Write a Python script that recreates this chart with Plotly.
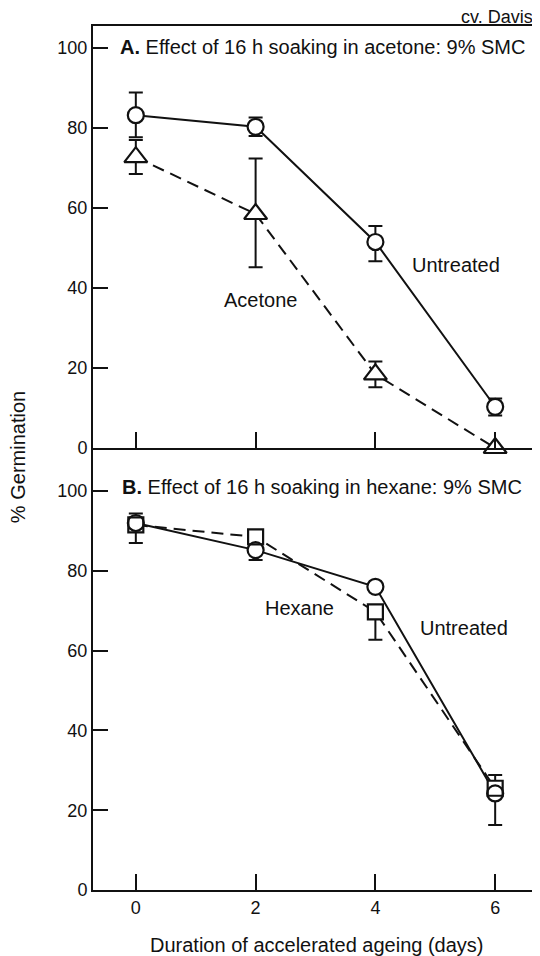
import plotly.graph_objects as go
from plotly.subplots import make_subplots

# ---------------- data ----------------
days = [0, 2, 4, 6]

# Panel A: acetone
a_untreated = [83.2, 80.3, 51.5, 10.3]
a_untreated_up = [5.7, 2.3, 4.0, 2.1]
a_untreated_dn = [5.5, 2.3, 4.8, 2.2]
a_acetone = [72.7, 58.5, 18.4, 0.0]
a_acetone_up = [4.3, 13.9, 3.2, 0.0]
a_acetone_dn = [4.2, 13.3, 3.2, 0.0]

# Panel B: hexane
b_untreated = [92.0, 85.2, 76.0, 24.2]
b_untreated_up = [2.4, 0.0, 0.0, 0.0]
b_untreated_dn = [0.0, 2.5, 0.0, 7.9]
b_hexane = [91.5, 88.5, 69.7, 25.5]
b_hexane_up = [0.0, 1.5, 0.0, 3.3]
b_hexane_dn = [4.5, 0.0, 7.0, 0.0]

x_ticks = [0, 2, 4, 6]
y_ticks = [0, 20, 40, 60, 80, 100]

title_a = "<b>A.</b> Effect of 16 h soaking in acetone: 9% SMC"
title_b = "<b>B.</b> Effect of 16 h soaking in hexane: 9% SMC"
x_title = "Duration of accelerated ageing (days)"
y_title = "% Germination"
corner = "cv. Davis"

# ---------------- figure ----------------
FONT = "Liberation Sans, Arial, Helvetica, sans-serif"
BLACK = "#111111"

fig = make_subplots(rows=2, cols=1, shared_xaxes=False, vertical_spacing=0)


def add_series(row, y, up, dn, symbol, size, dash):
    # connecting line
    fig.add_trace(go.Scatter(x=days, y=y, mode="lines",
                             line=dict(color=BLACK, width=2, dash=dash),
                             hoverinfo="skip", showlegend=False, cliponaxis=False),
                  row=row, col=1)
    # error bars + white fill marker (hides lines / bar stems inside)
    fig.add_trace(go.Scatter(x=days, y=y, mode="markers",
                             marker=dict(symbol=symbol, size=size, color="white",
                                         line=dict(width=0)),
                             error_y=dict(type="data", symmetric=False, array=up,
                                          arrayminus=dn, color=BLACK, thickness=2,
                                          width=7),
                             hoverinfo="skip", showlegend=False, cliponaxis=False),
                  row=row, col=1)


def add_outline(row, y, symbol, size):
    fig.add_trace(go.Scatter(x=days, y=y, mode="markers",
                             marker=dict(symbol=symbol + "-open", size=size, color=BLACK,
                                         line=dict(width=2.2, color=BLACK)),
                             showlegend=False, cliponaxis=False),
                  row=row, col=1)


add_series(1, a_untreated, a_untreated_up, a_untreated_dn, "circle", 16, "solid")
add_series(1, a_acetone, a_acetone_up, a_acetone_dn, "triangle-up", 20, "12px,7px")
add_outline(1, a_untreated, "circle", 16)
add_outline(1, a_acetone, "triangle-up", 20)

add_series(2, b_untreated, b_untreated_up, b_untreated_dn, "circle", 16, "solid")
add_series(2, b_hexane, b_hexane_up, b_hexane_dn, "square", 15, "12px,7px")
add_outline(2, b_untreated, "circle", 16)
add_outline(2, b_hexane, "square", 15)

axis_common = dict(showline=True, linecolor=BLACK, linewidth=2,
                   ticks="inside", tickcolor=BLACK, tickwidth=2,
                   showgrid=False, zeroline=False,
                   tickfont=dict(family=FONT, size=18, color=BLACK))

split = 0.5116
fig.update_xaxes(range=[-0.715, 6.665], tickvals=x_ticks, ticklen=16, **axis_common)
fig.update_xaxes(showticklabels=False, mirror=True, row=1, col=1)
fig.update_xaxes(ticktext=[str(v) for v in x_ticks], mirror=False, row=2, col=1)
fig.update_yaxes(tickvals=y_ticks, ticklen=15, mirror=True, **axis_common)
fig.update_yaxes(range=[0, 105.5], domain=[split, 1.0], row=1, col=1)
fig.update_yaxes(range=[0, 110.8], domain=[0.0, split], row=2, col=1)

txt = dict(family=FONT, size=20, color=BLACK)
annotations = [
    dict(text=title_a, x=-0.30, y=100.3, xref="x", yref="y", xanchor="left",
         yanchor="middle", showarrow=False, font=txt),
    dict(text=title_b, x=-0.26, y=101.0, xref="x2", yref="y2", xanchor="left",
         yanchor="middle", showarrow=False, font=txt),
    dict(text="Untreated", x=5.35, y=45.8, xref="x", yref="y", showarrow=False, font=txt),
    dict(text="Acetone", x=2.08, y=37.0, xref="x", yref="y", showarrow=False, font=txt),
    dict(text="Hexane", x=2.73, y=70.7, xref="x2", yref="y2", showarrow=False, font=txt),
    dict(text="Untreated", x=5.48, y=65.7, xref="x2", yref="y2", showarrow=False, font=txt),
    dict(text=corner, x=1.0, y=1.0, xref="paper", yref="paper", xanchor="right",
         yanchor="middle", yshift=9, showarrow=False,
         font=dict(family=FONT, size=18, color=BLACK)),
    dict(text=x_title, x=0.507, y=0, xref="paper", yref="paper", xanchor="center",
         yanchor="middle", yshift=-55, showarrow=False, font=txt),
    dict(text=y_title, x=0, y=0.501, xref="paper", yref="paper", xanchor="center",
         yanchor="middle", xshift=-75, textangle=-90, showarrow=False, font=txt),
]

# page body has an 8px default margin; size the figure to fit the 540x956 window
fig.update_layout(width=532, height=948,
                  margin=dict(l=85, r=3, t=18, b=66),
                  paper_bgcolor="white", plot_bgcolor="white",
                  font=dict(family=FONT, color=BLACK),
                  annotations=annotations, showlegend=False)

fig.write_html("out.html")
